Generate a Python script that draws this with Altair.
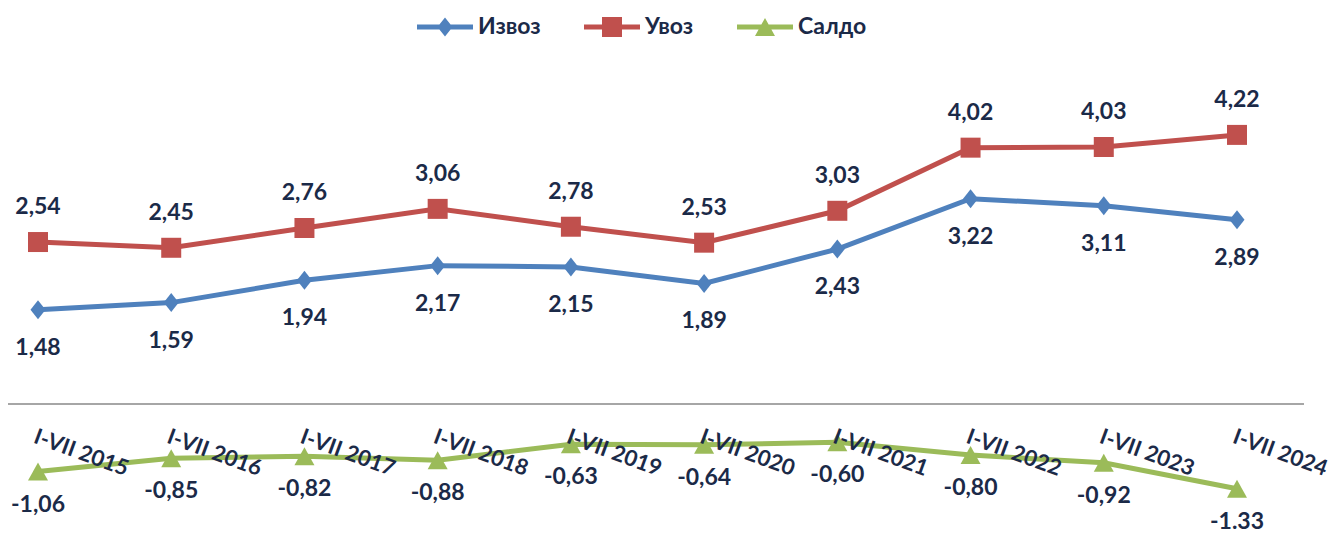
import altair as alt
import pandas as pd

categories = ["I-VII 2015", "I-VII 2016", "I-VII 2017", "I-VII 2018", "I-VII 2019",
              "I-VII 2020", "I-VII 2021", "I-VII 2022", "I-VII 2023", "I-VII 2024"]
series_names = ["Извоз", "Увоз", "Салдо"]
izvoz = [1.48, 1.59, 1.94, 2.17, 2.15, 1.89, 2.43, 3.22, 3.11, 2.89]
uvoz = [2.54, 2.45, 2.76, 3.06, 2.78, 2.53, 3.03, 4.02, 4.03, 4.22]
saldo = [-1.06, -0.85, -0.82, -0.88, -0.63, -0.64, -0.60, -0.80, -0.92, -1.33]
izvoz_labels = ["1,48", "1,59", "1,94", "2,17", "2,15", "1,89", "2,43", "3,22", "3,11", "2,89"]
uvoz_labels = ["2,54", "2,45", "2,76", "3,06", "2,78", "2,53", "3,03", "4,02", "4,03", "4,22"]
saldo_labels = ["-1,06", "-0,85", "-0,82", "-0,88", "-0,63", "-0,64", "-0,60", "-0,80", "-0,92", "-1.33"]
colors = ["#4F81BD", "#C0504D", "#9BBB59"]

TEXT = "#1B2A48"
FONT = "Lato"
FS = 23

rows = []
for name, vals, labs in [("Извоз", izvoz, izvoz_labels), ("Увоз", uvoz, uvoz_labels), ("Салдо", saldo, saldo_labels)]:
    for c, v, l in zip(categories, vals, labs):
        rows.append({"series": name, "cat": c, "value": v, "label": l})
df = pd.DataFrame(rows)
cat_df = pd.DataFrame({"cat": categories, "zero": [0.0] * len(categories)})

marker_paths = [
    "M0,-0.95L0.75,0L0,0.95L-0.75,0Z",
    "M-1,-1H1V1H-1Z",
    "M0,-0.9L1,0.9H-1Z",
]
legend_paths = [
    "M-1,-0.09H1V0.09H-1ZM0,-0.34L0.27,0L0,0.34L-0.27,0Z",
    "M-1,-0.09H1V0.09H-1ZM-0.357,-0.357H0.357V0.357H-0.357Z",
    "M-1,-0.09H1V0.09H-1ZM0,-0.32L0.357,0.32H-0.357Z",
]

x_enc = alt.X("cat:N", sort=categories,
              scale=alt.Scale(type="point", domain=categories, range=[30, 1229], padding=0),
              axis=None)
y_scale = alt.Scale(domain=[-1.96, 6.21], nice=False, zero=False)
y_enc = alt.Y("value:Q", scale=y_scale, axis=None)
color_scale = alt.Scale(domain=series_names, range=colors)

base = alt.Chart(df)

zero_rule = alt.Chart(cat_df).mark_rule(color="#A6A6A6", strokeWidth=2).encode(
    y=alt.Y("zero:Q", scale=y_scale, axis=None), x=alt.value(-8), x2=alt.value(1296)
)

line_layers = [
    base.transform_filter(alt.datum.series == name).mark_line(strokeWidth=5, color=col).encode(
        x=x_enc, y=y_enc)
    for name, col in zip(series_names, colors)
]

point_layers = [
    base.transform_filter(alt.datum.series == name).mark_point(
        filled=True, opacity=1, size=400, shape=path, color=col
    ).encode(x=x_enc, y=y_enc)
    for name, path, col in zip(series_names, marker_paths, colors)
]

leg = alt.Legend(orient="none", legendX=409, legendY=-9, direction="horizontal", title=None,
                 symbolSize=3136, labelFont=FONT, labelFontSize=FS, labelFontWeight="bold",
                 labelColor=TEXT, columnPadding=43, labelOffset=5, symbolStrokeWidth=0,
                 symbolOpacity=1)

legend_layer = base.mark_point(filled=True, opacity=0).encode(
    x=x_enc, y=y_enc,
    color=alt.Color("series:N", scale=color_scale, legend=leg),
    shape=alt.Shape("series:N", scale=alt.Scale(domain=series_names, range=legend_paths), legend=leg),
)

def labels(name, dy):
    return base.transform_filter(alt.datum.series == name).mark_text(
        font=FONT, fontSize=FS, fontWeight="bold", color=TEXT, dy=dy, baseline="alphabetic"
    ).encode(x=x_enc, y=y_enc, text="label:N")

uvoz_text = labels("Увоз", -28)
izvoz_text = labels("Извоз", 45)
saldo_text = labels("Салдо", 40)

cat_text = alt.Chart(cat_df).mark_text(
    font=FONT, fontSize=22, fontWeight="bold", color=TEXT, angle=20,
    align="left", baseline="top", dx=8, dy=21
).encode(x=x_enc, y=alt.Y("zero:Q", scale=y_scale, axis=None), text="cat:N")

chart = alt.layer(
    zero_rule, *line_layers, legend_layer, *point_layers, uvoz_text, izvoz_text, saldo_text, cat_text
).properties(
    width=1325, height=521, autosize=alt.AutoSizeParams(type="none"), padding=0
).configure_view(stroke=None)

chart.save("out.html", embed_options={"renderer": "svg", "actions": False})
